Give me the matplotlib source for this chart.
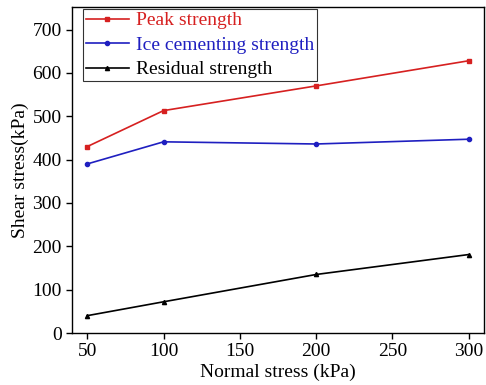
import matplotlib.pyplot as plt

plt.rcParams['font.family'] = ['Liberation Serif', 'DejaVu Serif']

normal_stress = [50, 100, 200, 300]
peak = [430, 513, 570, 628]
ice = [390, 441, 436, 447]
residual = [40, 72, 135, 181]

fig = plt.figure(figsize=(4.86, 3.85), dpi=100)
ax = fig.add_axes([72 / 486, 52 / 385, 412 / 486, 326 / 385])

ax.plot(normal_stress, peak, color='#d62020', marker='s', markersize=3, lw=1.2, label='Peak strength')
ax.plot(normal_stress, ice, color='#1f1fc0', marker='o', markersize=3, lw=1.2, label='Ice cementing strength')
ax.plot(normal_stress, residual, color='black', marker='^', markersize=3, lw=1.2, label='Residual strength')

ax.set_xlim(40, 310)
ax.set_ylim(0, 752)
ax.set_xticks([50, 100, 150, 200, 250, 300])
ax.set_yticks([0, 100, 200, 300, 400, 500, 600, 700])
ax.tick_params(labelsize=14, direction='out', length=4, width=1)
ax.set_xlabel('Normal stress (kPa)', fontsize=14, labelpad=2)
ax.set_ylabel('Shear stress(kPa)', fontsize=14, labelpad=2)
for s in ax.spines.values():
    s.set_linewidth(1)

leg = ax.legend(loc='upper left', bbox_to_anchor=(0.027, 0.994), fontsize=14,
                frameon=True, fancybox=False, edgecolor='black', handlelength=2.2,
                handletextpad=0.35, borderpad=0.15, labelspacing=0.35, borderaxespad=0)
leg.get_frame().set_linewidth(0.8)
for t, c in zip(leg.get_texts(), ['#d62020', '#1f1fc0', 'black']):
    t.set_color(c)

fig.savefig('out.png', dpi=100)
